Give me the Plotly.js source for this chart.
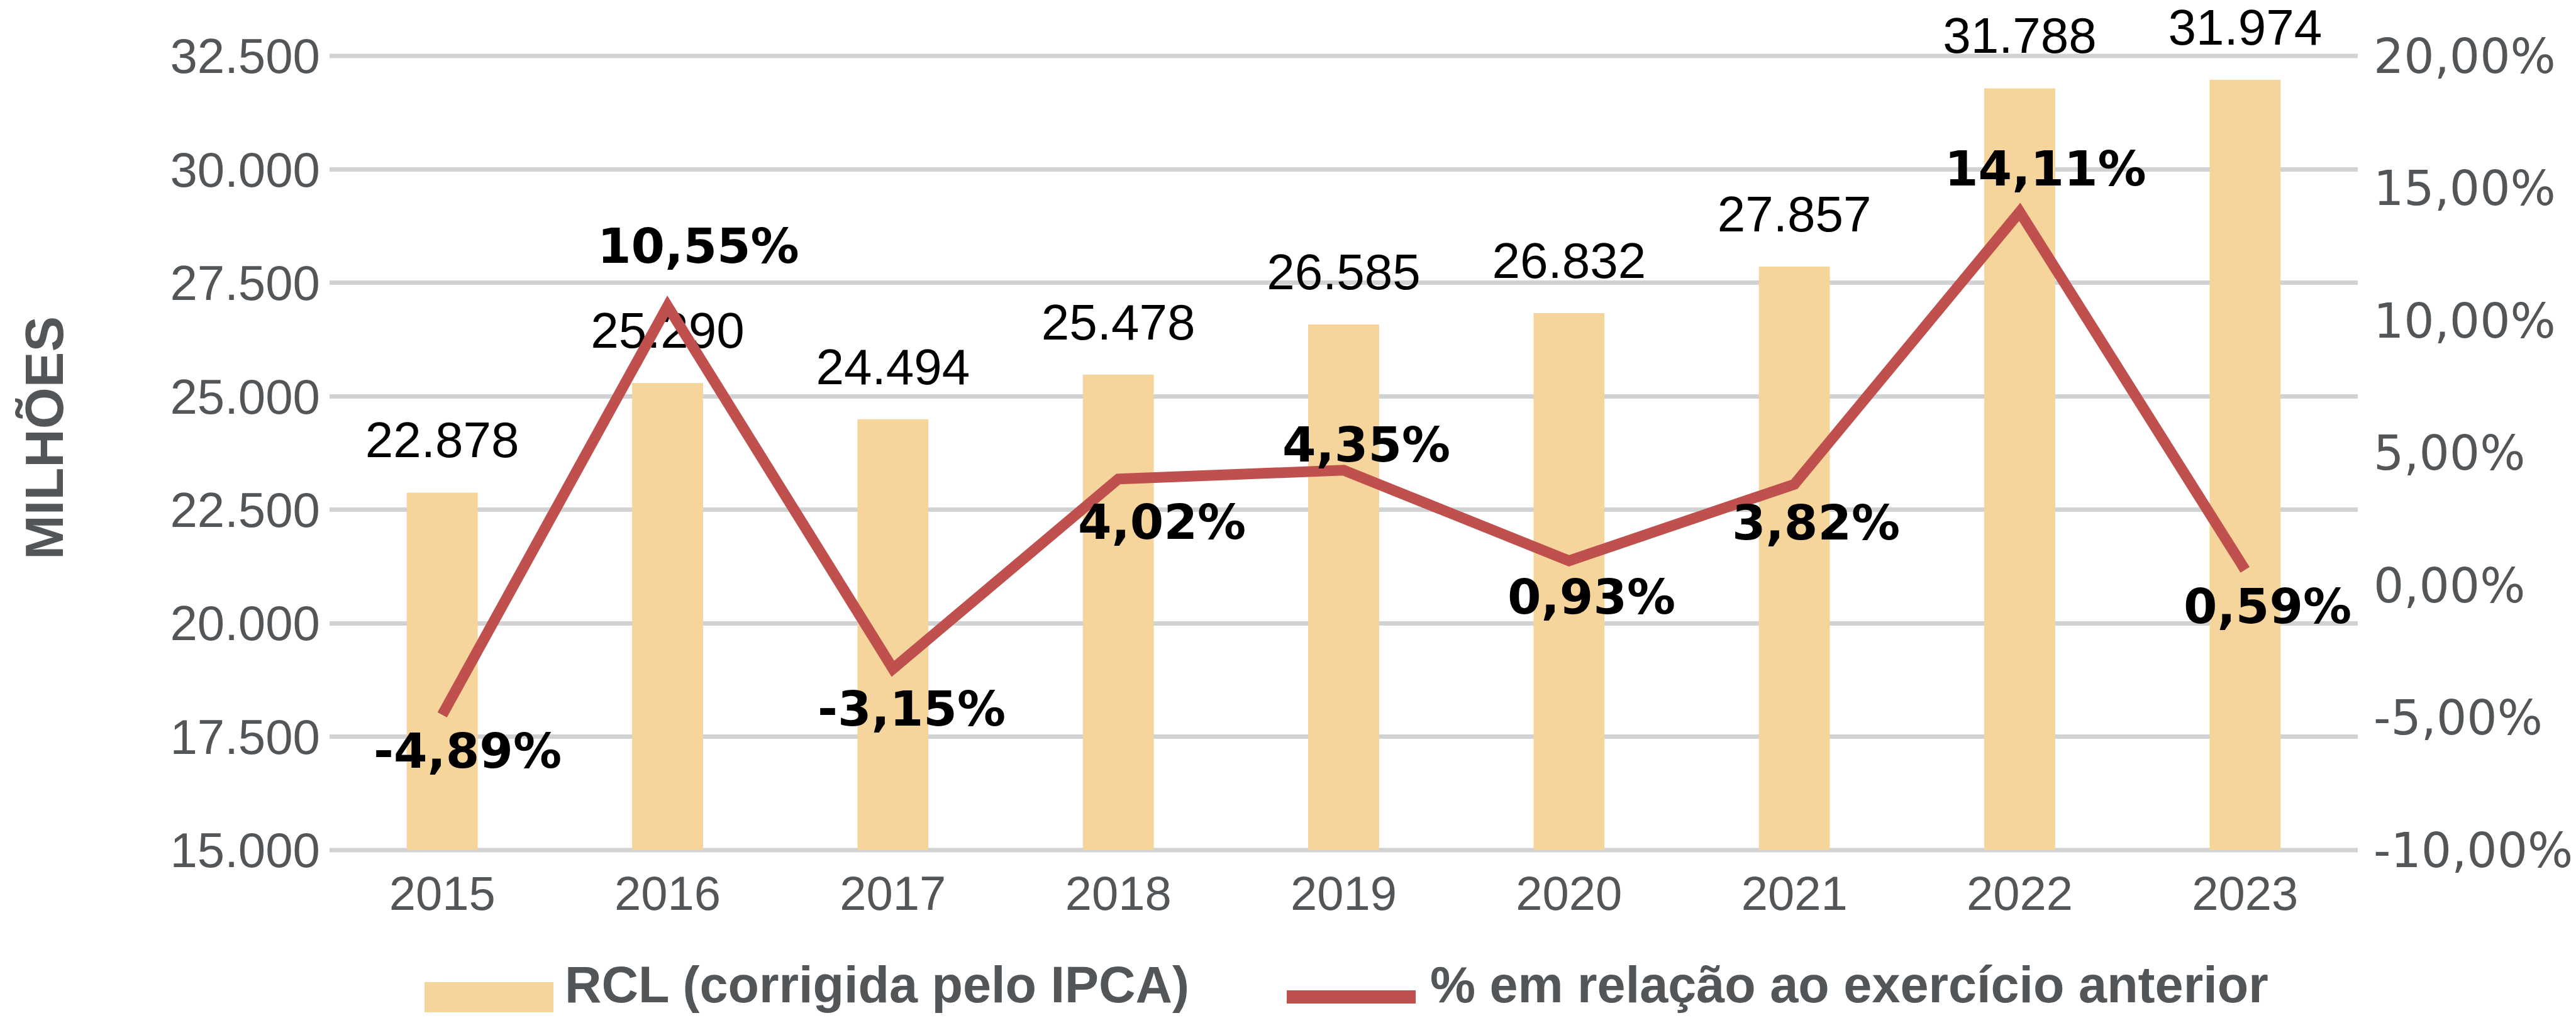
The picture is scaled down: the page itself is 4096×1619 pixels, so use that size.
<!DOCTYPE html>
<html><head><meta charset="utf-8">
<script src="https://cdn.plot.ly/plotly-3.0.1.min.js"></script>
<style>html,body{margin:0;padding:0;background:#fff;overflow:hidden}#chart{width:4096px;height:1619px}</style>
</head><body><div id="chart"></div>
<script>
// ---- data ----
const years = ['2015', '2016', '2017', '2018', '2019', '2020', '2021', '2022', '2023'];
const rcl = [22878, 25290, 24494, 25478, 26585, 26832, 27857, 31788, 31974];
const pctChange = [-4.89, 10.55, -3.15, 4.02, 4.35, 0.93, 3.82, 14.11, 0.59];
const leftTicks = [15000, 17500, 20000, 22500, 25000, 27500, 30000, 32500];
const rightTicks = [-10, -5, 0, 5, 10, 15, 20];
const seriesNames = ['RCL (corrigida pelo IPCA)', '% em relação ao exercício anterior'];
const axisTitle = 'MILHÕES';

// ---- formatting ----
function fmtThousands(v) { return String(Math.round(v)).replace(/\B(?=(\d{3})+(?!\d))/g, '.'); }
function fmtPct(v) { return v.toFixed(2).replace('.', ',') + '%'; }

// ---- style / layout geometry ----
const W = 4096, H = 1619, L = 524, R = 347, T = 89, B = 267;
const PW = W - L - R, PH = H - T - B;
const px = x => (x - L) / PW;
const py = y => 1 - (y - T) / PH;
const GRAY = '#525659';
const GRID = '#D0D2D3';
const BAR = '#F5D59B';
const RED = '#C0504D';
const SANS = 'Liberation Sans, Arial, sans-serif';
const WIDE = 'DejaVu Sans, Verdana, sans-serif';
// label offsets (pixels) for each % label: right shift and vertical shift
const pctXShift = [40, 49, 30, 69, 36, 36, 34, 41, 36];
const pctYShift = [-58, 95, -64, -69, 40, -58, -61, 68, -58];

const traces = [
  {
    type: 'bar', x: years, y: rcl, name: seriesNames[0],
    marker: { color: BAR }, hoverinfo: 'skip'
  },
  {
    type: 'scatter', mode: 'markers+text', x: years, y: rcl,
    text: rcl.map(fmtThousands), textposition: 'top center',
    textfont: { family: SANS, size: 80, color: '#000000' },
    marker: { size: 56, color: 'rgba(0,0,0,0)' }, cliponaxis: false,
    hoverinfo: 'skip', showlegend: false
  },
  {
    type: 'scatter', mode: 'lines', x: years, y: pctChange, yaxis: 'y2',
    name: seriesNames[1], line: { color: RED, width: 17 }, hoverinfo: 'skip'
  }
];

const annotations = pctChange.map((v, i) => ({
  xref: 'x', yref: 'y2', x: i, y: v, text: fmtPct(v), showarrow: false,
  xshift: pctXShift[i], yshift: pctYShift[i], xanchor: 'center', yanchor: 'middle',
  font: { family: WIDE, size: 77, color: '#000000', weight: 700 }
}));

annotations.push({
  xref: 'paper', yref: 'paper', x: px(70), y: py(697), text: axisTitle, textangle: -90,
  showarrow: false, xanchor: 'center', yanchor: 'middle',
  font: { family: SANS, size: 85, color: GRAY, weight: 700 }
});
annotations.push({
  xref: 'paper', yref: 'paper', x: px(896), y: py(1566), text: seriesNames[0],
  showarrow: false, xanchor: 'left', yanchor: 'middle',
  font: { family: SANS, size: 81, color: GRAY, weight: 700 }
});
annotations.push({
  xref: 'paper', yref: 'paper', x: px(2272), y: py(1566), text: seriesNames[1],
  showarrow: false, xanchor: 'left', yanchor: 'middle',
  font: { family: SANS, size: 81, color: GRAY, weight: 700 }
});

const shapes = [
  // gridlines at the top and bottom edges of the value range
  { type: 'line', layer: 'below', xref: 'paper', yref: 'paper', x0: 0, x1: 1, y0: 0, y1: 0,
    line: { color: GRID, width: 7 } },
  { type: 'line', layer: 'below', xref: 'paper', yref: 'paper', x0: 0, x1: 1, y0: 1, y1: 1,
    line: { color: GRID, width: 7 } },
  // legend swatches
  { type: 'rect', xref: 'paper', yref: 'paper', x0: px(675), x1: px(880), y0: py(1610), y1: py(1562),
    fillcolor: BAR, line: { width: 0 } },
  { type: 'rect', xref: 'paper', yref: 'paper', x0: px(2046), x1: px(2251), y0: py(1596), y1: py(1575),
    fillcolor: RED, line: { width: 0 } }
];

const layout = {
  width: W, height: H,
  margin: { l: L, r: R, t: T, b: B, pad: 0 },
  paper_bgcolor: '#ffffff', plot_bgcolor: '#ffffff',
  showlegend: false, bargap: 0.685,
  xaxis: {
    type: 'category', range: [-0.5, years.length - 0.5], autorange: false,
    showgrid: false, showline: false, zeroline: false, ticks: '',
    tickfont: { family: SANS, size: 76, color: GRAY }, ticklabelstandoff: 18
  },
  yaxis: {
    range: [15000, 32500], autorange: false, tickvals: leftTicks, ticktext: leftTicks.map(fmtThousands),
    showgrid: true, gridcolor: GRID, gridwidth: 7, zeroline: false, showline: false, ticks: '',
    tickfont: { family: SANS, size: 78, color: GRAY }, ticklabelstandoff: 14
  },
  yaxis2: {
    overlaying: 'y', side: 'right', range: [-10, 20], autorange: false, tickvals: rightTicks,
    ticktext: rightTicks.map(fmtPct), showgrid: false, zeroline: false, showline: false, ticks: '',
    tickfont: { family: WIDE, size: 76, color: GRAY }, ticklabelstandoff: 24
  },
  annotations: annotations,
  shapes: shapes
};

Plotly.newPlot('chart', traces, layout, { staticPlot: true, displayModeBar: false });
</script></body></html>
